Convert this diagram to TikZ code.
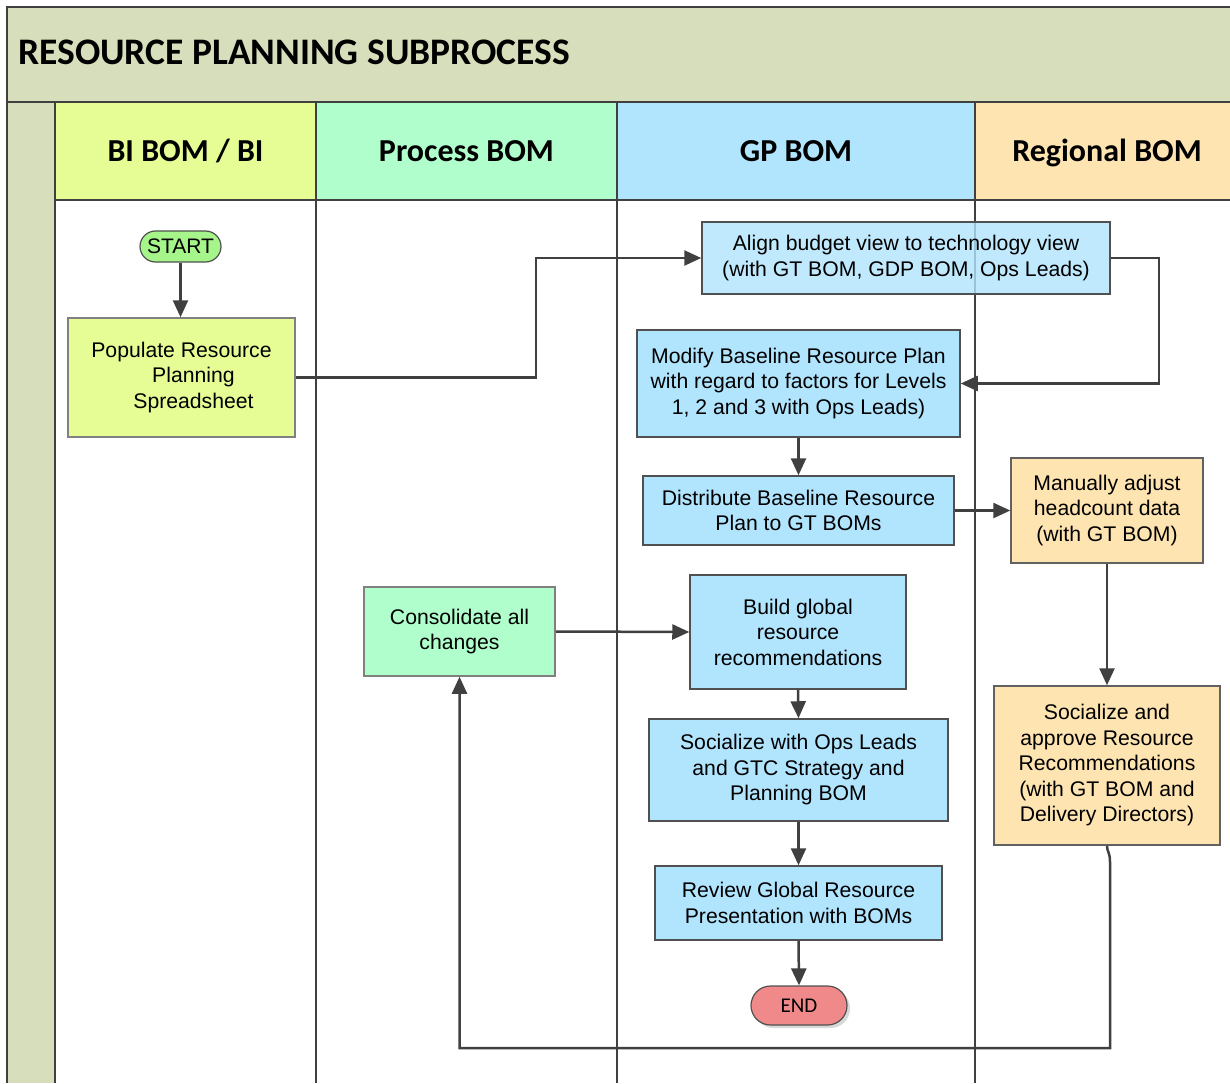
\documentclass[tikz,border=0pt]{standalone}
\usepackage{fontspec}
\setmainfont{Liberation Sans}
\newfontfamily\calib{Carlito}
\usetikzlibrary{arrows.meta,shadows}
\definecolor{oliveC}{HTML}{D7DEBB}
\definecolor{biC}{HTML}{E6FD96}
\definecolor{procC}{HTML}{B0FECC}
\definecolor{gpC}{HTML}{B1E4FD}
\definecolor{regC}{HTML}{FEE4B1}
\definecolor{startC}{HTML}{A6F58A}
\definecolor{endC}{HTML}{F08A8A}
\definecolor{lineC}{HTML}{404040}
\definecolor{boxC}{HTML}{505050}
\definecolor{lightboxC}{HTML}{808080}
\begin{document}
\begin{tikzpicture}[x=1pt,y=-1pt,
  lane/.style={draw=lineC, line width=2pt},
  proc/.style={draw=boxC, line width=1.5pt, align=center, inner sep=0pt,
    font=\fontsize{21.2}{25.5}\selectfont},
  pill/.style={draw=boxC, line width=1.2pt, inner sep=0pt, rectangle},
  hdr/.style={font=\calib\bfseries\fontsize{32}{38}\selectfont, inner sep=0pt, anchor=base},
  conn/.style={draw=lineC, line width=2.5pt, -{Triangle[length=17pt,width=15pt]}},
]
\useasboundingbox (0,0) rectangle (1230,1083);
% backgrounds
\fill[white] (0,0) rectangle (1230,1083);
\fill[oliveC] (7,7) rectangle (1230,102);
\fill[oliveC] (7,102) rectangle (55,1083);
\fill[biC] (55,102) rectangle (316,200);
\fill[procC] (316,102) rectangle (617,200);
\fill[gpC] (617,102) rectangle (975,200);
\fill[regC] (975,102) rectangle (1230,200);
% frame and lanes
\draw[lane] (7,1083) -- (7,7) -- (1230,7);
\draw[lane] (7,102) -- (1230,102);
\draw[lane] (55,200) -- (1230,200);
\draw[lane] (55,102) -- (55,1083);
\draw[lane] (316,102) -- (316,1083);
\draw[lane] (617,102) -- (617,1083);
\draw[lane] (975,102) -- (975,1083);
% titles
\node[font=\calib\bfseries\fontsize{37.5}{44}\selectfont, anchor=base west, inner sep=0pt] (title) at (18,65) {RESOURCE PLANNING SUBPROCESS};
\node[hdr] (hbi) at (185.5,162) {BI BOM / BI};
\node[hdr] (hproc) at (466.5,162) {Process BOM};
\node[hdr] (hgp) at (796,162) {GP BOM};
\node[hdr] (hreg) at (1107,162) {Regional BOM};
% nodes
\node[pill, fill=startC, rounded corners=15.5pt, minimum width=81, minimum height=31,
  font=\fontsize{21}{25}\selectfont] (start) at (180.5,246.5) {START};
\node[proc, draw=lightboxC, fill=biC, minimum width=227, minimum height=119] (pop) at (181.5,377.5)
  {Populate Resource\\\hspace*{24pt}Planning\\\hspace*{24pt}Spreadsheet};
\node[proc, fill=gpC, fill opacity=0.8, text opacity=1, minimum width=408, minimum height=72] (align) at (906,258)
  {Align budget view to technology view\\(with GT BOM, GDP BOM, Ops Leads)};
\node[proc, fill=gpC, minimum width=323, minimum height=107] (modify) at (798.5,383.5)
  {Modify Baseline Resource Plan\\with regard to factors for Levels\\1, 2 and 3 with Ops Leads)};
\node[proc, fill=gpC, minimum width=311, minimum height=69] (dist) at (798.5,510.5)
  {Distribute Baseline Resource\\Plan to GT BOMs};
\node[proc, draw=boxC!90, fill=regC, minimum width=192, minimum height=105] (manual) at (1107,510.5)
  {Manually adjust\\headcount data\\(with GT BOM)};
\node[proc, draw=lightboxC, fill=procC, minimum width=191, minimum height=89] (cons) at (459.5,631.5)
  {Consolidate all\\changes};
\node[proc, fill=gpC, minimum width=216, minimum height=114] (build) at (798,632)
  {Build global\\resource\\recommendations};
\node[proc, fill=gpC, minimum width=299, minimum height=102] (soc) at (798.5,770)
  {Socialize with Ops Leads\\and GTC Strategy and\\Planning BOM};
\node[proc, fill=gpC, minimum width=287, minimum height=74] (review) at (798.5,903)
  {Review Global Resource\\Presentation with BOMs};
\node[proc, draw=boxC!90, fill=regC, minimum width=226, minimum height=159] (approve) at (1107,765.5)
  {Socialize and\\approve Resource\\Recommendations\\(with GT BOM and\\Delivery Directors)};
\node[pill, fill=endC, rounded corners=19.5pt, minimum width=96, minimum height=39,
  font=\calib\fontsize{21}{25}\selectfont,
  drop shadow={shadow xshift=3pt, shadow yshift=-3pt, fill=black!25, opacity=0.6}] (end) at (799,1005.5) {END};
% connectors
\draw[conn] (start.south) -- (start.south |- pop.north);
\draw[conn] (pop.east) -- ++(240,0) |- (align.west);
\draw[conn] (align.east) -- ++(48,0) |- (modify.east);
\draw[conn] (modify.south) -- (dist.north);
\draw[conn] (dist.east) -- (manual.west);
\draw[conn] (manual.south) -- (approve.north);
\draw[conn] (cons.east) -- (build.west);
\draw[conn] (build.south) -- (soc.north);
\draw[conn] (soc.south) -- (review.north);
\draw[conn] (review.south) -- (end.north);
\coordinate (bend) at (1110,1048);
\draw[conn] (approve.south) .. controls (1107,852) and (1110,852) .. (1110,862) -- (bend) -| (cons.south);
\end{tikzpicture}
\end{document}
